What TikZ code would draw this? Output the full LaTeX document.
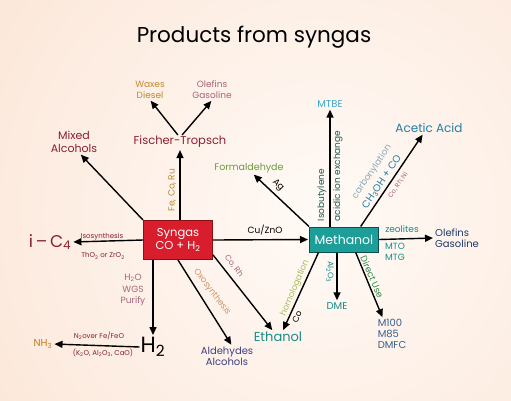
\documentclass[tikz,border=0pt]{standalone}
\usepackage{fontspec}
\setmainfont{Poppins}
\usetikzlibrary{arrows.meta}

\definecolor{bgout}{HTML}{FADCC8}
\definecolor{bgin}{HTML}{FFFAF6}
\definecolor{synred}{HTML}{D81E2C}
\definecolor{synedge}{HTML}{8B0F15}
\definecolor{methteal}{HTML}{1E9E98}
\definecolor{methedge}{HTML}{0B4F4D}
\definecolor{maroon}{HTML}{8A1F2F}
\definecolor{gold}{HTML}{BC8A2E}
\definecolor{mauve}{HTML}{A8627A}
\definecolor{ammonia}{HTML}{C47A1E}
\definecolor{navy}{HTML}{3E3F80}
\definecolor{teal}{HTML}{1B8C88}
\definecolor{slate}{HTML}{3A5E8C}
\definecolor{deepnavy}{HTML}{1E3A66}
\definecolor{skyblue}{HTML}{3FA8C8}
\definecolor{aceblue}{HTML}{1F7FA8}
\definecolor{carbgray}{HTML}{8AAAB8}
\definecolor{formgreen}{HTML}{6C9A3C}
\definecolor{homgreen}{HTML}{A8BE5A}
\definecolor{usegreen}{HTML}{2E8A4A}
\definecolor{isogreen}{HTML}{1E5A50}
\definecolor{oxotan}{HTML}{C8946A}

\begin{document}
\begin{tikzpicture}[x=1pt, y=-1pt]
		\tikzset{box/.style={draw, line width=1pt, minimum width=69pt, text=white, align=center, inner sep=2pt},
			prod/.style={align=center, inner sep=1pt},
			lbl/.style={inner sep=0.5pt, align=center},
			arr/.style={-{Triangle[length=8pt,width=7pt]}, line width=1.4pt, shorten >=1pt},
			fsize/.style={font=\fontsize{#1}{#1}\selectfont}};

		% background
		\useasboundingbox (0,0) rectangle (511,400);
		\begin{scope}
			\clip (0,0) rectangle (511,400);
			\shade[inner color=bgin, outer color=bgout] (320,215) circle (620pt);
		\end{scope}

		\node[fsize=21.5] (title) at (254,37) {Products from syngas};

		% main boxes
		\node[box, fill=synred, draw=synedge, minimum height=39pt, font=\fontsize{11.5}{13.5}\selectfont] (syn) at (178,240) {Syngas\\CO + H\textsubscript{2}};
		\node[box, fill=methteal, draw=methedge, minimum height=25pt, fsize=12.5] (meth) at (344,239.5) {Methanol};

		% products
		\node[prod, maroon, fsize=11.5] (ft) at (180,142) {Fischer-Tropsch};
		\node[prod, gold, font=\fontsize{9}{11}\selectfont] (wax) at (150,90) {Waxes\\Diesel};
		\node[prod, mauve, font=\fontsize{9}{11}\selectfont] (olf) at (212,90) {Olefins\\Gasoline};
		\node[prod, maroon, font=\fontsize{11}{13}\selectfont] (mix) at (74,142) {Mixed\\Alcohols};
		\node[prod, maroon, fsize=17] (ic4) at (50,242) {i\,--\,C\textsubscript{4}};
		\node[prod, fsize=22] (h2) at (153,347) {H\textsubscript{2}};
		\node[prod, ammonia, fsize=10] (nh3) at (43,344) {NH\textsubscript{3}};
		\node[prod, navy, font=\fontsize{10}{11}\selectfont] (ald) at (227,356) {Aldehydes\\Alcohols};
		\node[prod, teal, fsize=13] (eth) at (278,337) {Ethanol};
		\node[prod, teal, fsize=10] (dme) at (337,306) {DME};
		\node[prod, slate, align=left, font=\fontsize{10}{11}\selectfont] (m100) at (392,334) {M100\\M85\\DMFC};
		\node[prod, deepnavy, align=left, anchor=west, font=\fontsize{10}{11}\selectfont] (ol2) at (434,238) {Olefins\\Gasoline};
		\node[prod, skyblue, fsize=10] (mtbe) at (330,104) {MTBE};
		\node[prod, aceblue, fsize=12] (ace) at (429,128) {Acetic Acid};
		\node[prod, formgreen, fsize=9.5] (form) at (249,168) {Formaldehyde};

		% arrows out of syngas
		\draw[arr] (syn.north -| ft) to (ft.south);
		\draw[arr] (ft.107) to (wax.south);
		\draw[arr] (ft.73) to (olf.south);
		\draw[arr] (syn.north west) to (mix.-63);
		\draw[arr] (syn.west) to (ic4.east);
		\draw[arr] (syn.south -| h2) to (h2.north);
		\draw[arr] (h2.west) to (nh3.east);
		\draw[arr] (syn.south) to (ald.65);
		\draw[arr] (syn.-23) to (eth.130);
		\draw[arr] (syn.east) to (meth.west);

		% arrows out of methanol
		\draw[arr] (meth.-153) to (eth.52);
		\draw[arr] (meth.south -| dme) to (dme.north);
		\draw[arr] (meth.-48) to (m100.120);
		\draw[arr] (meth.east) to (ol2.west);
		\draw[arr] (meth.north -| mtbe) to (mtbe.south);
		\draw[arr] (meth.38) to (ace.-135);
		\draw[arr] (meth.north west) to (form.-56);

		% process labels
		\node[lbl, gold, fsize=9, rotate=90] (feco) at (172,190) {Fe, Co, Ru};
		\node[lbl, maroon, fsize=7] (iso) at (102,237) {Isosynthesis};
		\node[lbl, maroon, fsize=7] (tho) at (103,256) {ThO\textsubscript{2} or ZrO\textsubscript{2}};
		\node[lbl, mauve, font=\fontsize{9}{11.5}\selectfont] (wgs) at (133,290) {H\textsubscript{2}O\\WGS\\Purify};
		\node[lbl, maroon, fsize=7] (nover) at (99,336) {N\textsubscript{2}over Fe/FeO};
		\node[lbl, maroon, fsize=7] (kao) at (103,353) {(K\textsubscript{2}O, Al\textsubscript{2}O\textsubscript{3}, CaO)};
		\node[lbl, oxotan, fsize=8.5, rotate=-53] (oxo) at (212,292) {Oxosynthesis};
		\node[lbl, mauve, fsize=8, rotate=-52] (corh) at (234,266) {Co, Rh};
		\node[lbl, fsize=9] (cuzn) at (265,230) {Cu/ZnO};
		\node[lbl, homgreen, fsize=8.5, rotate=67] (homo) at (295,288) {homologation};
		\node[lbl, fsize=8.5, rotate=67] (coh) at (297,317) {Co};
		\node[lbl, teal, fsize=8, rotate=-90] (alo) at (330,272) {Al\textsubscript{2}O\textsubscript{3}};
		\node[lbl, usegreen, fsize=9, rotate=-67] (duse) at (372,277) {Direct Use};
		\node[lbl, teal, fsize=9] (zeo) at (402,229) {zeolites};
		\node[lbl, teal, align=left, font=\fontsize{9}{11}\selectfont] (mto) at (395,252) {MTO\\MTG};
		\node[lbl, isogreen, fsize=9, rotate=90] (isob) at (322,195) {Isobutylene};
		\node[lbl, isogreen, fsize=9, rotate=90] (acid) at (338,176) {acidic ion exchange};
		\node[lbl, carbgray, fsize=9, rotate=56] (carb) at (372,172) {carbonylation};
		\node[lbl, aceblue, fsize=10, rotate=56] (chco) at (382,182) {CH\textsubscript{3}OH + CO};
		\node[lbl, mauve, fsize=6.5, rotate=56] (corhni) at (398,185) {Co, Rh, Ni};
		\node[lbl, fsize=9, rotate=-45] (ag) at (278,185) {Ag};
	\end{tikzpicture}
\end{document}
